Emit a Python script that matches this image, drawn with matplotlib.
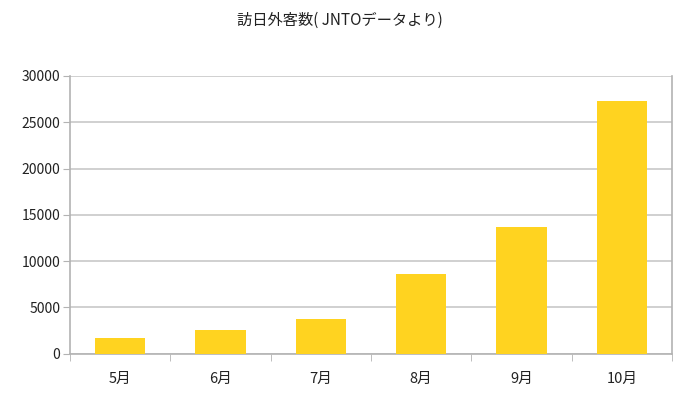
import matplotlib.pyplot as plt

plt.rcParams['font.family'] = ['Noto Sans CJK JP', 'DejaVu Sans']

# データ
months = ["5月", "6月", "7月", "8月", "9月", "10月"]
visitors = [1660, 2560, 3750, 8610, 13650, 27330]
yticks = [0, 5000, 10000, 15000, 20000, 25000, 30000]
title = "訪日外客数( JNTOデータより)"

fig = plt.figure(figsize=(6.79, 3.95), dpi=100)
ax = fig.add_axes([0.1031, 0.1046, 0.8866, 0.703])

x = range(len(months))
ax.bar(x, visitors, width=0.5, color="#FFD320", zorder=3)

ax.set_xlim(-0.5, len(months) - 0.5)
ax.set_ylim(0, 30000)
ax.set_yticks(yticks)
ax.set_yticklabels([str(v) for v in yticks], fontsize=10, color="#222222")
ax.set_xticks(list(x))
ax.set_xticklabels(months, fontsize=10.5, color="#222222")
ax.tick_params(axis="x", length=0, pad=13)
ax.tick_params(axis="y", length=5, color="#b3b3b3", pad=2)

# カテゴリ境界の目盛り
ax.set_xticks([i - 0.5 for i in range(len(months) + 1)], minor=True)
ax.tick_params(axis="x", which="minor", length=5, color="#b3b3b3")

ax.grid(axis="y", color="#c8c8c8", linewidth=1.2, zorder=0)
for side in ["left", "right", "bottom", "top"]:
    ax.spines[side].set_color("#b3b3b3")
    ax.spines[side].set_linewidth(1.2)
ax.spines["top"].set_visible(False)

fig.text(0.5, 0.948, title, ha="center", va="center", fontsize=11, color="#222222")

fig.savefig("out.png", dpi=100)
